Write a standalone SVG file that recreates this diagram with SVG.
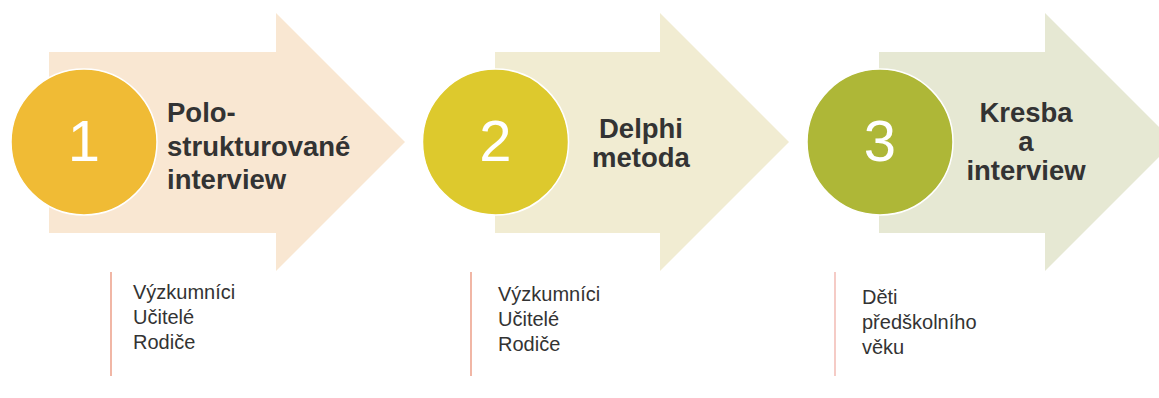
<svg xmlns="http://www.w3.org/2000/svg" width="1159" height="398" viewBox="0 0 1159 398">
<style>
.title{font-family:"Liberation Sans",Arial,sans-serif;font-weight:bold;font-size:27.5px;fill:#333333}
.num{font-family:"Liberation Sans",Arial,sans-serif;font-size:58px;fill:#ffffff;text-anchor:middle}
.item{font-family:"Liberation Sans",Arial,sans-serif;font-size:20px;fill:#333333}
.circ{stroke:#ffffff;stroke-width:1.5}
.bar{stroke-width:1.2;fill:none}
</style>
<rect width="1159" height="398" fill="#ffffff"/>
<g id="step1">
<polygon points="49,52 276,52 276,13 405,142 276,271 276,233 49,233" fill="#F9E7D2"/>
<circle class="circ" cx="84" cy="142" r="73" fill="#F0BB35"/>
<text class="num" x="84" y="161">1</text>
<text class="title" x="167" y="122">Polo-</text>
<text class="title" x="167" y="156">strukturované</text>
<text class="title" x="167" y="189">interview</text>
</g>
<g id="step2">
<polygon points="495,52 660,52 660,13 789,142 660,271 660,233 495,233" fill="#F1ECD2"/>
<circle class="circ" cx="495.5" cy="142" r="73" fill="#DDC92D"/>
<text class="num" x="495.5" y="161">2</text>
<text class="title" x="641" y="138" text-anchor="middle">Delphi</text>
<text class="title" x="641" y="167" text-anchor="middle">metoda</text>
</g>
<g id="step3">
<polygon points="879,52 1045,52 1045,13 1174,142 1045,271 1045,233 879,233" fill="#E6E8D3"/>
<circle class="circ" cx="880" cy="142" r="73" fill="#AEB737"/>
<text class="num" x="880" y="161">3</text>
<text class="title" x="1026" y="122" text-anchor="middle">Kresba</text>
<text class="title" x="1026" y="151" text-anchor="middle">a</text>
<text class="title" x="1026" y="180" text-anchor="middle">interview</text>
</g>
<g id="list1">
<line class="bar" x1="111" y1="272" x2="111" y2="376" stroke="#E8866A"/>
<text class="item" x="133" y="299">Výzkumníci</text>
<text class="item" x="133" y="324">Učitelé</text>
<text class="item" x="133" y="349">Rodiče</text>
</g>
<g id="list2">
<line class="bar" x1="471" y1="272" x2="471" y2="376" stroke="#E8866A"/>
<text class="item" x="498" y="301">Výzkumníci</text>
<text class="item" x="498" y="326">Učitelé</text>
<text class="item" x="498" y="351">Rodiče</text>
</g>
<g id="list3">
<line class="bar" x1="835" y1="272" x2="835" y2="376" stroke="#EFA9A0"/>
<text class="item" x="862" y="304">Děti</text>
<text class="item" x="862" y="329">předškolního</text>
<text class="item" x="862" y="354">věku</text>
</g>
<g id="connectors"></g>
</svg>
